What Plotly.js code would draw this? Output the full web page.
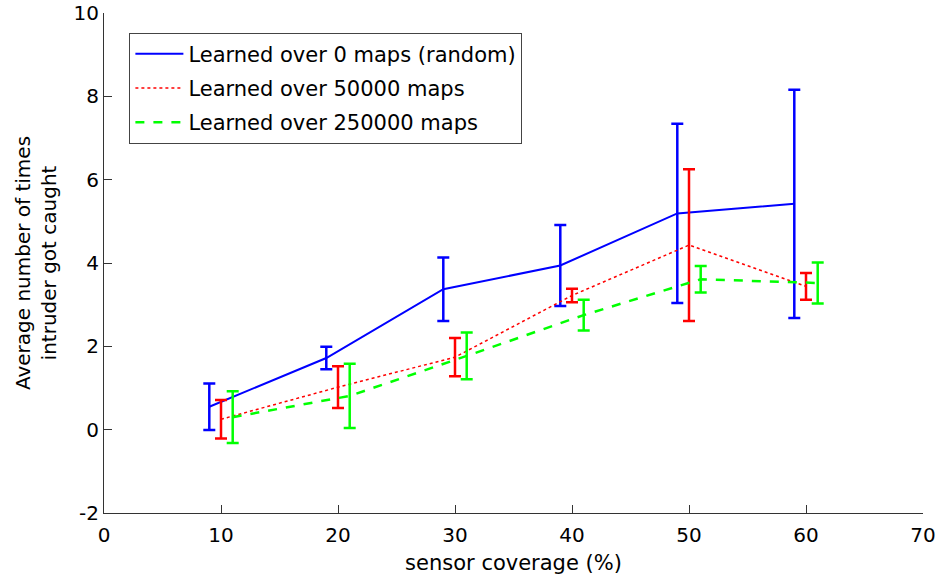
<!DOCTYPE html>
<html>
<head>
<meta charset="utf-8">
<script src="https://cdn.plot.ly/plotly-3.0.1.min.js"></script>
<style>html,body{margin:0;padding:0;background:#fff;}#chart{width:940px;height:579px;}</style>
</head>
<body>
<div id="chart"></div>
<script>
// Data
const xRandom = [9, 19, 29, 39, 49, 59];
const yRandom = [0.55, 1.72, 3.37, 3.94, 5.19, 5.42];
const eRandom = [0.56, 0.27, 0.76, 0.97, 2.15, 2.74];

const x50k = [10, 20, 30, 40, 50, 60];
const y50k = [0.25, 1.02, 1.74, 3.22, 4.43, 3.44];
const e50k = [0.46, 0.50, 0.46, 0.16, 1.82, 0.32];

const x250k = [11, 21, 31, 41, 51, 61];
const y250k = [0.30, 0.81, 1.77, 2.75, 3.61, 3.52];
const e250k = [0.62, 0.77, 0.56, 0.37, 0.32, 0.49];

const seriesNames = ['Learned over 0 maps (random)', 'Learned over 50000 maps', 'Learned over 250000 maps'];
const xTicks = [0, 10, 20, 30, 40, 50, 60, 70];
const yTicks = [-2, 0, 2, 4, 6, 8, 10];

const FONT = 'DejaVu Sans, Verdana, sans-serif';

function trace(x, y, e, name, color, dash, width, group) {
  return {
    type: 'scatter', mode: 'lines', x: x, y: y, name: name, legendgroup: group,
    line: {color: color, dash: dash, width: width},
    error_y: {type: 'data', array: e, visible: true, color: color, thickness: 2.5, width: 6}
  };
}

const data = [
  trace(xRandom, yRandom, eRandom, seriesNames[0], '#0000ff', 'solid', 2, 'a'),
  trace(x50k, y50k, e50k, seriesNames[1], '#ff0000', 'dot', 1.5, 'b'),
  trace(x250k, y250k, e250k, seriesNames[2], '#00ff00', 'dash', 2.5, 'c')
];

const axisCommon = {
  showline: true, linecolor: '#333', linewidth: 1, mirror: false,
  ticks: 'inside', ticklen: 8, tickcolor: '#333', tickwidth: 1,
  showgrid: false, zeroline: false,
  tickfont: {family: FONT, size: 20, color: '#000'}
};

const layout = {
  width: 940, height: 579,
  margin: {l: 104, r: 17, t: 13, b: 66},
  paper_bgcolor: '#fff', plot_bgcolor: '#fff',
  font: {family: FONT, color: '#000'},
  showlegend: true,
  legend: {
    x: 0.031, y: 0.961, xanchor: 'left', yanchor: 'top',
    bgcolor: '#fff', bordercolor: '#444', borderwidth: 1,
    font: {family: FONT, size: 21, color: '#000'},
    traceorder: 'grouped', tracegroupgap: 4, itemwidth: 48
  },
  xaxis: Object.assign({}, axisCommon, {
    range: [0, 70], tickvals: xTicks, ticktext: xTicks.map(String), ticklabelstandoff: 4,
    title: {text: 'sensor coverage (%)', font: {family: FONT, size: 21, color: '#000'}, standoff: 9}
  }),
  yaxis: Object.assign({}, axisCommon, {
    range: [-2, 10], tickvals: yTicks, ticktext: yTicks.map(String),
    title: {text: 'Average number of times<br>intruder got caught', font: {family: FONT, size: 20, color: '#000'}, standoff: 11}
  })
};

Plotly.newPlot('chart', data, layout, {displayModeBar: false, staticPlot: true});
</script>
</body>
</html>
